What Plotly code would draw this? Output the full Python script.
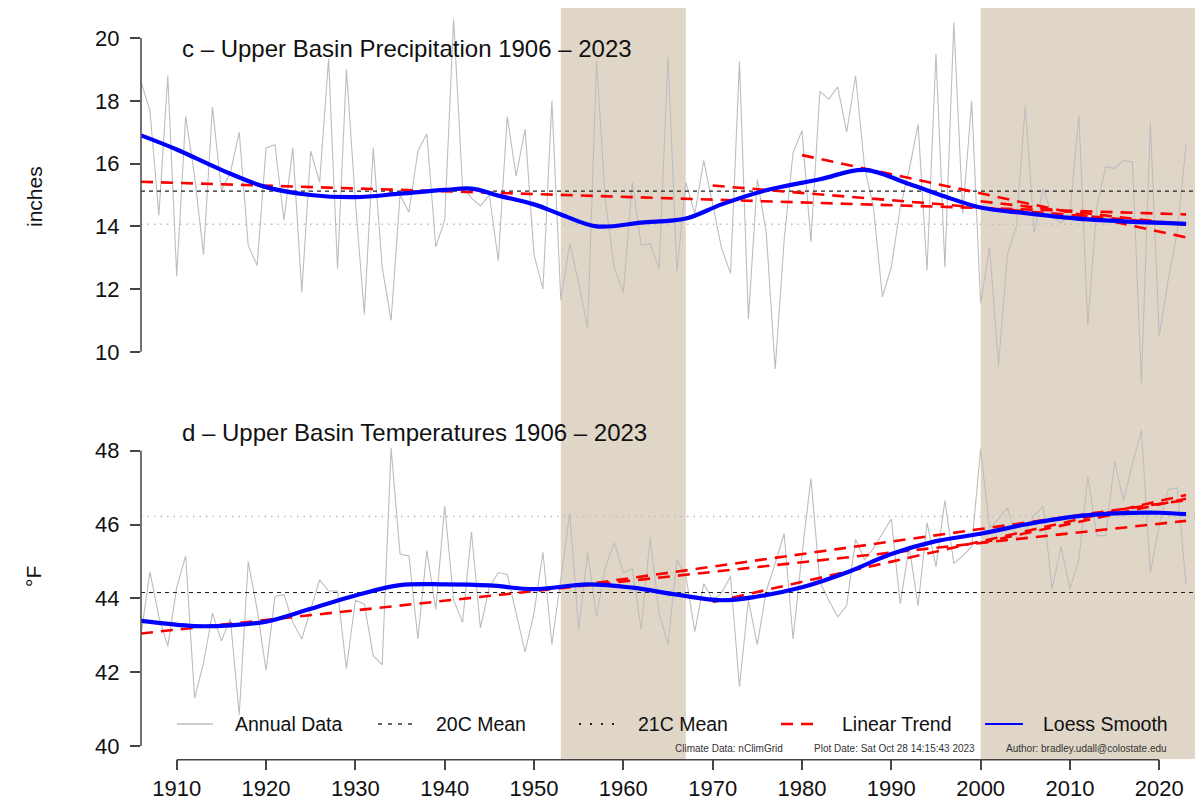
import plotly.graph_objects as go

# ---------------- data ----------------
years = list(range(1906, 2024))

precip = [18.6, 17.7, 14.35, 18.8, 12.4, 17.5, 15.6, 13.1, 17.8, 15.15,
          15.7, 17.0, 13.4, 12.75, 16.5, 16.6, 14.2, 16.5, 11.9, 16.4,
          15.4, 19.35, 12.65, 19.0, 14.8, 11.2, 16.5, 12.7, 11.0, 15.0,
          14.45, 16.4, 16.95, 13.35, 14.2, 20.6, 15.25, 14.9, 14.65, 15.0,
          12.9, 17.5, 15.6, 17.1, 13.1, 12.0, 18.0, 11.65, 13.45, 12.2,
          10.75, 19.25, 14.8, 12.65, 11.9, 15.4, 13.4, 13.45, 12.65, 19.4,
          12.55, 15.4, 14.4, 16.1, 14.7, 13.3, 12.5, 19.25, 11.05, 15.5,
          13.8, 9.45, 13.55, 16.35, 17.05, 13.5, 18.3, 18.05, 18.45, 17.0,
          18.8, 15.9, 14.6, 11.75, 12.7, 14.6, 15.8, 17.25, 12.6, 19.5,
          12.7, 20.5, 14.4, 18.0, 11.55, 13.35, 9.55, 13.1, 14.0, 17.85,
          13.8, 15.2, 14.35, 14.1, 14.4, 17.55, 10.85, 14.6, 15.9, 15.85,
          16.1, 16.05, 9.0, 17.3, 10.5, 12.3, 13.8, 16.6]

temp = [43.0, 44.72, 43.5, 42.7, 44.3, 45.15, 41.3, 42.25, 43.6, 42.85,
        43.45, 40.85, 45.0, 43.7, 42.05, 44.05, 44.1, 43.35, 42.9, 43.7,
        44.5, 44.2, 44.2, 42.1, 43.95, 43.85, 42.45, 42.2, 48.07, 45.2,
        45.15, 42.9, 45.3, 43.7, 46.5, 43.95, 43.35, 45.8, 43.2, 44.3,
        44.7, 44.65, 43.6, 42.55, 43.6, 45.25, 42.75, 44.6, 46.3, 43.15,
        45.25, 43.5, 44.85, 45.5, 44.7, 44.8, 43.15, 45.65, 43.6, 42.75,
        45.05, 44.6, 43.1, 44.4, 43.95, 44.15, 44.6, 41.6, 43.95, 42.75,
        44.2, 44.95, 45.75, 42.9, 45.2, 47.25, 44.45, 43.95, 43.5, 43.8,
        45.6, 45.05, 45.35, 45.75, 46.15, 43.85, 45.4, 43.8, 46.05, 44.85,
        46.65, 44.95, 45.15, 45.4, 48.05, 45.9, 46.15, 46.45, 45.65, 45.8,
        46.25, 46.5, 44.25, 45.4, 44.25, 45.05, 47.3, 45.7, 45.7, 47.7,
        46.65, 47.65, 48.55, 44.7, 46.0, 46.95, 47.0, 44.4]

# loess smooth, read at sample years
precip_loess_years = [1906, 1910, 1915, 1920, 1925, 1930, 1935, 1940, 1943, 1946,
                      1950, 1953, 1957, 1962, 1967, 1971, 1976, 1982, 1987, 1992,
                      1996, 2000, 2005, 2012, 2023]
precip_loess = [16.9, 16.45, 15.8, 15.25, 15.0, 14.93, 15.04, 15.16, 15.2, 14.98,
                14.7, 14.38, 14.0, 14.12, 14.25, 14.7, 15.15, 15.5, 15.8, 15.35,
                14.95, 14.6, 14.42, 14.22, 14.08]

temp_loess_years = [1906, 1912, 1916, 1920, 1925, 1930, 1935, 1940, 1945, 1950,
                    1956, 1961, 1966, 1971, 1975, 1980, 1985, 1990, 1995, 2000,
                    2005, 2010, 2015, 2020, 2023]
temp_loess = [43.39, 43.25, 43.27, 43.37, 43.72, 44.08, 44.36, 44.38, 44.35, 44.25,
              44.38, 44.29, 44.1, 43.95, 44.05, 44.3, 44.7, 45.2, 45.55, 45.75,
              46.0, 46.2, 46.3, 46.32, 46.28]

# linear trends (start year, end year, start value, end value)
precip_trend_start = [1906, 1970, 1980, 2000]
precip_trend_end = [2023, 2023, 2023, 2023]
precip_trend_v0 = [15.42, 15.3, 16.27, 14.8]
precip_trend_v1 = [14.38, 14.06, 13.65, 14.05]

temp_trend_start = [1906, 1957, 1970, 2000]
temp_trend_end = [2023, 2023, 2023, 2023]
temp_trend_v0 = [43.05, 44.42, 43.9, 45.5]
temp_trend_v1 = [46.1, 46.66, 46.8, 46.7]

# period means
precip_20c_mean = 15.12
precip_21c_mean = 14.07
temp_20c_mean = 44.16
temp_21c_mean = 46.22

# drought periods shaded
drought_start = [1953, 2000]
drought_end = [1967, 2024]

x_range = [1906, 2024]
precip_range = [8.99, 20.96]
temp_range = [39.65, 49.82]
precip_ticks = [10, 12, 14, 16, 18, 20]
temp_ticks = [40, 42, 44, 46, 48]
year_ticks = [1910, 1920, 1930, 1940, 1950, 1960, 1970, 1980, 1990, 2000, 2010, 2020]

titles = ["c \u2013 Upper Basin Precipitation 1906 \u2013 2023",
          "d \u2013 Upper Basin Temperatures 1906 \u2013 2023"]
legend_labels = ["Annual Data", "20C Mean", "21C Mean", "Linear Trend", "Loess Smooth"]
credits = ["Climate Data: nClimGrid", "Plot Date: Sat Oct 28 14:15:43 2023",
           "Author: bradley.udall@colostate.edu"]

# ---------------- styles ----------------
FONT = "Liberation Sans, Arial, Helvetica, sans-serif"
SHADE = "#E0D6C8"
GRAY = "#BDBDBD"
RED = "#FF0000"
BLUE = "#0000FF"
W, H = 1203, 800
ML, MR, MT, MB = 141, 8, 8, 41
PW, PH = W - ML - MR, H - MT - MB

def px_x(p):
    return (p - ML) / PW

def px_y(p):
    return (H - MB - p) / PH

fig = go.Figure()

def add_panel(yaxis, vals, loess_x, loess_y, t0, t1, v0, v1, m20, m21):
    fig.add_trace(go.Scatter(x=years, y=vals, mode="lines", yaxis=yaxis,
                             line=dict(color=GRAY, width=1.1), showlegend=False,
                             hoverinfo="skip"))
    fig.add_trace(go.Scatter(x=x_range, y=[m20, m20], mode="lines", yaxis=yaxis,
                             line=dict(color="#222222", width=1.2, dash="4px,4px"),
                             showlegend=False, hoverinfo="skip"))
    fig.add_trace(go.Scatter(x=x_range, y=[m21, m21], mode="lines", yaxis=yaxis,
                             line=dict(color="#BBBBBB", width=1.5, dash="1.5px,5px"),
                             showlegend=False, hoverinfo="skip"))
    for a, b, c, d in zip(t0, t1, v0, v1):
        fig.add_trace(go.Scatter(x=[a, b], y=[c, d], mode="lines", yaxis=yaxis,
                                 line=dict(color=RED, width=2.6, dash="12px,8px"),
                                 showlegend=False, hoverinfo="skip"))
    fig.add_trace(go.Scatter(x=loess_x, y=loess_y, mode="lines", yaxis=yaxis,
                             line=dict(color=BLUE, width=4.2, shape="spline", smoothing=1.0),
                             showlegend=False, hoverinfo="skip"))

add_panel("y", precip, precip_loess_years, precip_loess, precip_trend_start,
          precip_trend_end, precip_trend_v0, precip_trend_v1,
          precip_20c_mean, precip_21c_mean)
add_panel("y2", temp, temp_loess_years, temp_loess, temp_trend_start,
          temp_trend_end, temp_trend_v0, temp_trend_v1,
          temp_20c_mean, temp_21c_mean)

shapes = []
for a, b in zip(drought_start, drought_end):
    shapes.append(dict(type="rect", xref="x", yref="paper", x0=a, x1=b, y0=0, y1=1,
                       fillcolor=SHADE, line=dict(width=0), layer="below"))
# axis lines spanning the tick range only
AX = "#444444"
shapes.append(dict(type="line", xref="paper", yref="y", x0=0, x1=0,
                   y0=precip_ticks[0], y1=precip_ticks[-1], line=dict(color=AX, width=1.5)))
shapes.append(dict(type="line", xref="paper", yref="y2", x0=0, x1=0,
                   y0=temp_ticks[0], y1=temp_ticks[-1], line=dict(color=AX, width=1.5)))
shapes.append(dict(type="line", xref="x", yref="paper", x0=year_ticks[0], x1=year_ticks[-1],
                   y0=-0.001, y1=-0.001, line=dict(color=AX, width=1.5)))

annotations = []
for txt, ypx in zip(titles, [48, 432]):
    annotations.append(dict(text=txt, xref="paper", yref="paper", x=px_x(180), y=px_y(ypx),
                            xanchor="left", yanchor="middle", showarrow=False,
                            font=dict(family=FONT, size=24, color="#111111")))
annotations.append(dict(text="inches", xref="paper", yref="paper", x=px_x(34), y=px_y(197),
                        textangle=-90, showarrow=False, xanchor="center", yanchor="middle",
                        font=dict(family=FONT, size=21, color="#111111")))
annotations.append(dict(text="\u00b0F", xref="paper", yref="paper", x=px_x(33), y=px_y(577),
                        textangle=-90, showarrow=False, xanchor="center", yanchor="middle",
                        font=dict(family=FONT, size=21, color="#111111")))

# manual legend
LY = 724
leg_samples = [(177, 213), (378, 416), (579, 619), (781, 817), (985, 1023)]
leg_text_x = [233, 434, 636, 840, 1041]
leg_styles = [dict(color=GRAY, width=1.3),
              dict(color="#333333", width=1.3, dash="4px,6px"),
              dict(color="#222222", width=2, dash="2px,9px"),
              dict(color=RED, width=2.6, dash="12px,8px"),
              dict(color=BLUE, width=1.8)]
for (a, b), tx, st, lab in zip(leg_samples, leg_text_x, leg_styles, legend_labels):
    shapes.append(dict(type="line", xref="paper", yref="paper", x0=px_x(a), x1=px_x(b),
                       y0=px_y(LY), y1=px_y(LY), line=st))
    annotations.append(dict(text=lab, xref="paper", yref="paper", x=px_x(tx), y=px_y(LY),
                            xanchor="left", yanchor="middle", showarrow=False,
                            font=dict(family=FONT, size=19.5, color="#111111")))
for txt, cx in zip(credits, [729, 894, 1086]):
    annotations.append(dict(text=txt, xref="paper", yref="paper", x=px_x(cx), y=px_y(748),
                            xanchor="center", yanchor="middle", showarrow=False,
                            font=dict(family=FONT, size=10, color="#333333")))

tickfont = dict(family=FONT, size=22, color="#111111")
common = dict(ticks="outside", ticklen=10, tickwidth=1.5, tickcolor=AX, showline=False,
              showgrid=False, zeroline=False, tickfont=tickfont, automargin=False)
fig.update_layout(
    width=W, height=H,
    margin=dict(l=ML, r=MR, t=MT, b=MB, autoexpand=False),
    paper_bgcolor="white", plot_bgcolor="white",
    showlegend=False,
    xaxis=dict(domain=[0, 1], range=x_range, anchor="y2", tickvals=year_ticks,
               ticklabelstandoff=0, **common),
    yaxis=dict(domain=[0.5, 1], range=precip_range, anchor="x", tickvals=precip_ticks,
               ticklabelstandoff=6, **common),
    yaxis2=dict(domain=[0, 0.5], range=temp_range, anchor="x", tickvals=temp_ticks,
                ticklabelstandoff=6, **common),
    shapes=shapes,
    annotations=annotations,
)

fig.write_html("out.html", config={"displayModeBar": False},
               post_script="document.body.style.margin='0px';document.body.style.overflow='hidden';")
